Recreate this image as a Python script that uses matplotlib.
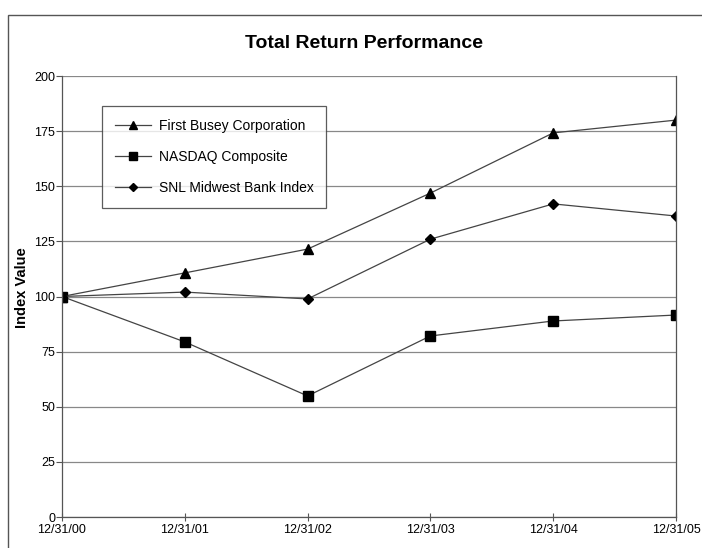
import matplotlib
matplotlib.use("Agg")
import matplotlib.pyplot as plt
from matplotlib.patches import Rectangle

plt.rcParams["font.family"] = ["Liberation Sans", "DejaVu Sans"]

dates = ["12/31/00", "12/31/01", "12/31/02", "12/31/03", "12/31/04", "12/31/05"]
busey = [100, 110.7, 121.5, 146.9, 174.2, 180.0]
nasdaq = [100, 79.4, 54.9, 82.1, 88.9, 91.6]
snl = [100, 102.0, 98.9, 126.0, 142.0, 136.5]

fig = plt.figure(figsize=(7.02, 5.48), dpi=100)
ax = fig.add_axes([62 / 702, 1 - 517 / 548, 614 / 702, 441 / 548])

# outer frame of the page
fig.patches.append(Rectangle((8 / 702, -0.05), 1.0, 1 - 15 / 548 + 0.05,
                             transform=fig.transFigure, fill=False,
                             edgecolor="#555555", linewidth=1.0))

x = list(range(len(dates)))
ax.plot(x, busey, color="#444444", lw=0.9, marker="^", ms=7, mfc="black", mec="black",
        label="First Busey Corporation")
ax.plot(x, nasdaq, color="#444444", lw=0.9, marker="s", ms=6.5, mfc="black", mec="black",
        label="NASDAQ Composite")
ax.plot(x, snl, color="#444444", lw=0.9, marker="D", ms=5.5, mfc="black", mec="black",
        label="SNL Midwest Bank Index")

ax.set_xlim(0, 5)
ax.set_ylim(0, 200)
ax.set_yticks(range(0, 201, 25))
ax.set_xticks(x)
ax.set_xticklabels(dates)
ax.yaxis.grid(True, color="#888888", lw=0.9)
ax.set_axisbelow(True)
for s in ax.spines.values():
    s.set_color("#555555")
    s.set_linewidth(0.9)
ax.spines["top"].set_visible(False)
ax.tick_params(axis="x", direction="inout", length=6, width=0.8, colors="#555555",
               labelcolor="black", labelsize=9, pad=2)
ax.tick_params(axis="y", direction="out", length=4, width=0.8, colors="#555555",
               labelcolor="black", labelsize=9, pad=1)

fig.text(22 / 702, 1 - 288 / 548, "Index Value", rotation=90, ha="center", va="center",
         fontsize=10.5, fontweight="bold")
fig.text(0.518, 1 - 44 / 548, "Total Return Performance", ha="center", va="center",
         fontsize=14, fontweight="bold")

leg = ax.legend(loc="upper left", bbox_to_anchor=(40 / 614, 1 - 30 / 441),
                fontsize=10, frameon=True, fancybox=False, edgecolor="#333333",
                handlelength=2.6, markerscale=0.8, labelspacing=1.25, borderpad=0.9,
                handletextpad=0.6, borderaxespad=0)
leg.get_frame().set_linewidth(0.9)

fig.savefig("out.png", dpi=100)
